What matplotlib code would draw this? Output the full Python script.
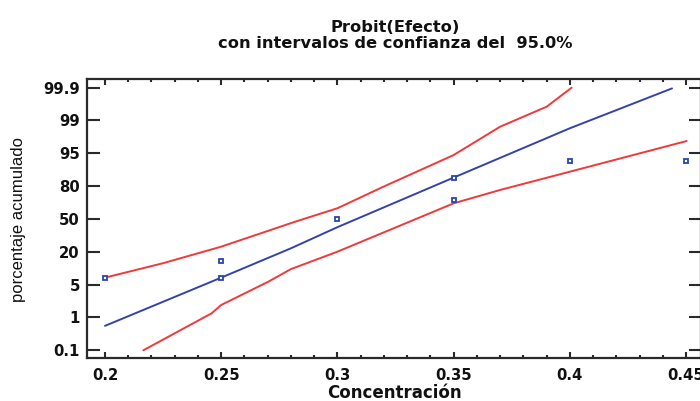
import numpy as np
import matplotlib
matplotlib.use("Agg")
import matplotlib.pyplot as plt
from matplotlib.ticker import FixedLocator, FixedFormatter, MultipleLocator, NullLocator

# ---------------- data ----------------
prob_ticks = [0.1, 1, 5, 20, 50, 80, 95, 99, 99.9]
prob_labels = ["0.1", "1", "5", "20", "50", "80", "95", "99", "99.9"]
x_ticks = [0.2, 0.25, 0.3, 0.35, 0.4, 0.45]
x_labels = ["0.2", "0.25", "0.3", "0.35", "0.4", "0.45"]

x_obs = [0.20, 0.25, 0.25, 0.30, 0.35, 0.35, 0.40, 0.45]
p_obs = [8.2, 15.9, 8.2, 50.0, 83.9, 67.1, 91.7, 91.7]

x_fit = [0.20, 0.25, 0.28, 0.30, 0.35, 0.40, 0.444]
p_fit = [0.77, 8.2, 23.2, 42.5, 83.9, 98.05, 99.88]

x_upper = [0.20, 0.225, 0.25, 0.2818, 0.30, 0.3198, 0.35, 0.37, 0.3901, 0.4008]
p_upper = [8.2, 14.8, 24.7, 47.5, 59.8, 79.5, 94.2, 98.24, 99.38, 99.9]

x_lower = [0.2165, 0.2459, 0.25, 0.2703, 0.28, 0.30, 0.3198, 0.35, 0.37, 0.40, 0.4503]
p_lower = [0.1, 1.51, 2.52, 6.35, 12.1, 20.1, 37.6, 64.3, 76.5, 86.6, 96.5]

title1 = "Probit(Efecto)"
title2 = "con intervalos de confianza del  95.0%"
xlabel = "Concentración"
ylabel = "porcentaje acumulado"

# ---------------- probit-like scale (evenly spaced labels) ----------------
_P = np.array(prob_ticks, dtype=float)
_I = np.arange(len(_P), dtype=float)


def fwd(v):
    v = np.asarray(v, dtype=float)
    out = np.interp(v, _P, _I)
    lo_slope = (_I[1] - _I[0]) / (_P[1] - _P[0])
    hi_slope = (_I[-1] - _I[-2]) / (_P[-1] - _P[-2])
    out = np.where(v < _P[0], _I[0] + (v - _P[0]) * lo_slope, out)
    out = np.where(v > _P[-1], _I[-1] + (v - _P[-1]) * hi_slope, out)
    return out


def inv(t):
    t = np.asarray(t, dtype=float)
    out = np.interp(t, _I, _P)
    lo_slope = (_P[1] - _P[0]) / (_I[1] - _I[0])
    hi_slope = (_P[-1] - _P[-2]) / (_I[-1] - _I[-2])
    out = np.where(t < _I[0], _P[0] + (t - _I[0]) * lo_slope, out)
    out = np.where(t > _I[-1], _P[-1] + (t - _I[-1]) * hi_slope, out)
    return out


# ---------------- figure ----------------
fig = plt.figure(figsize=(7.0, 4.01), dpi=100)
left, right = 86.7 / 700, 701.0 / 700
bottom, top = 1 - 358 / 401, 1 - 79 / 401
ax = fig.add_axes([left, bottom, right - left, top - bottom])

ax.set_yscale("function", functions=(fwd, inv))
ax.set_ylim(float(inv(-0.2345)), float(inv(8.264)))
ax.set_xlim(0.19213, 0.45646)

red = "#ee3a3a"
blue = "#3344a6"

ax.plot(x_upper, p_upper, color=red, lw=1.4, solid_capstyle="round", solid_joinstyle="round")
ax.plot(x_lower, p_lower, color=red, lw=1.4, solid_capstyle="round", solid_joinstyle="round")
ax.plot(x_fit, p_fit, color=blue, lw=1.4, solid_capstyle="round", solid_joinstyle="round")
ax.plot(x_obs, p_obs, linestyle="none", marker="s", markersize=3.4,
        markerfacecolor="white", markeredgecolor="#2a45b0", markeredgewidth=1.3,
        zorder=5)

# ticks
ax.yaxis.set_major_locator(FixedLocator(prob_ticks))
ax.yaxis.set_major_formatter(FixedFormatter(prob_labels))
ax.yaxis.set_minor_locator(NullLocator())
ax.xaxis.set_major_locator(FixedLocator(x_ticks))
ax.xaxis.set_major_formatter(FixedFormatter(x_labels))
ax.xaxis.set_minor_locator(MultipleLocator(0.01))

spine_color = "#2a2a2a"
for s in ax.spines.values():
    s.set_linewidth(1.6)
    s.set_color(spine_color)

ax.tick_params(axis="y", which="major", direction="in", length=9, width=1.5,
               left=True, right=True, color=spine_color, pad=5)
ax.tick_params(axis="x", which="major", direction="in", length=4, width=1.5,
               top=True, bottom=True, color=spine_color, pad=7)
ax.tick_params(axis="x", which="minor", direction="in", length=2.2, width=1.5,
               top=True, bottom=True, color=spine_color)

tick_font = dict(family="DejaVu Sans", weight="bold", size=10.7)
for lab in ax.get_xticklabels() + ax.get_yticklabels():
    lab.set_fontfamily(tick_font["family"])
    lab.set_fontweight(tick_font["weight"])
    lab.set_fontsize(tick_font["size"])
    lab.set_color("#111111")

fig.text(394.7 / 700, 1 - 31.7 / 401, title1, ha="center", va="baseline",
         fontfamily="DejaVu Sans", fontweight="bold", fontsize=11.7, color="#111111")
fig.text(395 / 700, 1 - 48 / 401, title2, ha="center", va="baseline",
         fontfamily="DejaVu Sans", fontweight="bold", fontsize=11.7, color="#111111")
fig.text(394 / 700, 1 - 398 / 401, xlabel, ha="center", va="baseline",
         fontfamily="DejaVu Sans", fontweight="bold", fontsize=12, color="#111111")
fig.text(19 / 700, 1 - 219 / 401, ylabel, ha="center", va="center", rotation=90,
         fontfamily="Liberation Sans", fontsize=12, color="#111111")

fig.savefig("out.png", dpi=100)
